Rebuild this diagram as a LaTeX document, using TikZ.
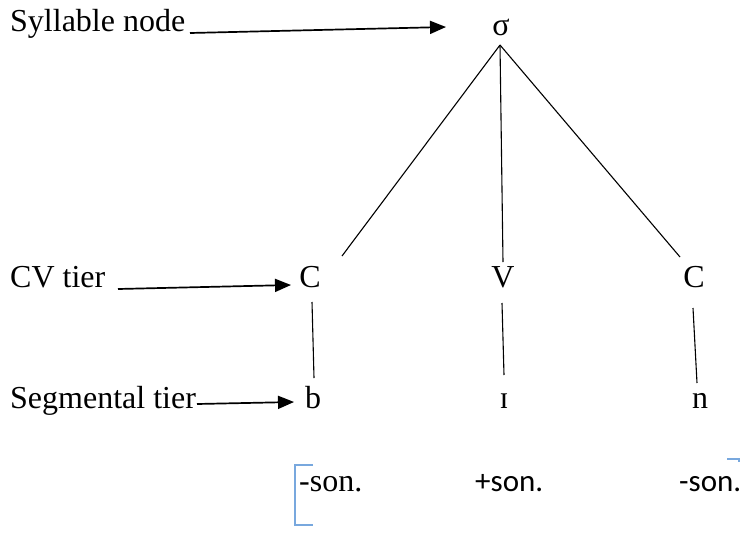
\documentclass[tikz,border=0pt]{standalone}
\usepackage{fontspec}
\setmainfont{Liberation Serif}
\newfontfamily\calib{Carlito}
\usetikzlibrary{arrows.meta}
\definecolor{brk}{RGB}{120,168,222}
\begin{document}
\begin{tikzpicture}[x=1pt,y=-1pt,
  lbl/.style={anchor=base west,inner sep=0pt,font=\fontsize{32}{38}\selectfont},
  sym/.style={anchor=base,inner sep=0pt,font=\fontsize{32}{38}\selectfont},
  feat/.style={anchor=base west,inner sep=0pt,font=\calib\fontsize{31}{37}\selectfont},
  pointer/.style={line width=1.7pt,-{Triangle[length=16pt,width=13pt]}},
  branch/.style={line width=1.1pt},
  bracket/.style={draw=brk,line width=1.6pt}]
\useasboundingbox (0,0) rectangle (741,533);

% tier labels
\node[lbl] (syl) at (10,31) {Syllable node};
\node[lbl] (cv) at (10,287) {CV tier};
\node[lbl] (seg) at (10,408) {Segmental tier};

% tree symbols
\node[sym] (sigma) at (501,35) {σ};
\node[sym] (C1) at (310,287) {C};
\node[sym] (V) at (503,287) {V};
\node[sym] (C2) at (694,287) {C};
\node[sym] (b) at (313,408) {b};
\node[sym] (I) at (504,408) {ɪ};
\node[sym] (n) at (700,408) {n};

% feature values
\node[lbl] (f1) at (299,491) {-son.};
\node[feat] (f2) at (475,491) {+son.};
\node[feat] (f3) at (679,491) {-son.};

% endpoints of the branches
\coordinate (sigma-foot) at (500,45);
\coordinate (C1-top) at (342,256);
\coordinate (V-top) at (503,262);
\coordinate (C2-top) at (680,257);
\coordinate (C1-foot) at (312,302);
\coordinate (b-top) at (314,378);
\coordinate (V-foot) at (502,303);
\coordinate (I-top) at (504,375);
\coordinate (C2-foot) at (693,308);
\coordinate (n-top) at (697,383);

\draw[branch] (sigma-foot) -- (C1-top);
\draw[branch] (sigma-foot) -- (V-top);
\draw[branch] (sigma-foot) -- (C2-top);
\draw[branch] (C1-foot) -- (b-top);
\draw[branch] (V-foot) -- (I-top);
\draw[branch] (C2-foot) -- (n-top);

% pointers from labels to tiers
\coordinate (syl-end) at (190,33);
\coordinate (sigma-tip) at (446,27);
\coordinate (cv-end) at (118,289);
\coordinate (C1-tip) at (291,285);
\coordinate (seg-end) at (197,404);
\coordinate (b-tip) at (294,402);
\draw[pointer] (syl-end) -- (sigma-tip);
\draw[pointer] (cv-end) -- (C1-tip);
\draw[pointer] (seg-end) -- (b-tip);

% brackets
\draw[bracket] (313,465) -- (295,465) -- (295,525) -- (313,525);
\draw[bracket] (727,459) -- (739,459) -- (739,462);
\end{tikzpicture}
\end{document}
